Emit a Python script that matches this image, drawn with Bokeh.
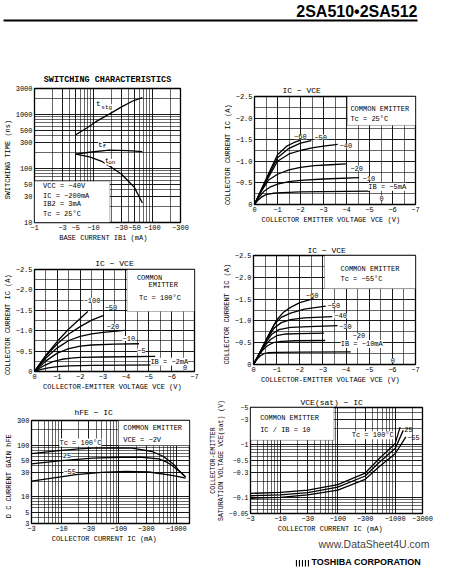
from bokeh.plotting import figure
from bokeh.models import Range1d, FixedTicker, Label, BoxAnnotation, Title
from bokeh.layouts import column, row
from bokeh.embed import file_html
from bokeh.resources import INLINE

MONO = "Liberation Mono"

# ---------------- data ----------------
# Switching characteristics: |IB1| (mA) vs time (ns)
sw_tstg_ib = [5, 7.6, 11, 18.2, 30, 46.5, 67.6]
sw_tstg_t = [418, 553, 731, 995, 1371, 1762, 2036]
sw_tf_ib = [5, 8.6, 18.2, 38.5, 67.6]
sw_tf_t = [183, 199, 217, 214, 205]
sw_ton_ib = [5, 8.6, 14.2, 20.6, 30, 38.5, 49.5, 67.6]
sw_ton_t = [183, 164, 133, 103, 78, 59, 44.6, 23]
sw_x_ticks = [1, 3, 5, 10, 30, 50, 100, 300]
sw_x_labels = ["−1", "−3", "−5", "−10", "−30", "−50", "−100", "−300"]
sw_x_minor = [2, 4, 6, 7, 8, 9, 20, 40, 60, 70, 80, 90, 200]
sw_y_ticks = [10, 30, 50, 100, 300, 500, 1000, 3000]
sw_y_labels = ["10", "30", "50", "100", "300", "500", "1000", "3000"]
sw_y_minor = [20, 40, 60, 70, 80, 90, 200, 400, 600, 700, 800, 900, 2000]

# IC - VCE axes (V, A)
vce_ticks = [0, -1, -2, -3, -4, -5, -6, -7]
vce_labels = ["0", "−1", "−2", "−3", "−4", "−5", "−6", "−7"]
vce_minor = [-0.5, -1.5, -2.5, -3.5, -4.5, -5.5, -6.5]
ic_ticks = [0, -0.5, -1.0, -1.5, -2.0, -2.5]
ic_labels = ["0", "−0.5", "−1.0", "−1.5", "−2.0", "−2.5"]
ic_minor = [-0.25, -0.75, -1.25, -1.75, -2.25]

# IC - VCE, Tc = 25 C
c25_ib60_v = [0, -0.3, -0.6, -1.0, -1.4, -1.7, -2.0]
c25_ib60_i = [0, -0.35, -0.7, -1.15, -1.35, -1.43, -1.49]
c25_ib50_v = [0, -0.3, -0.6, -1.0, -1.5, -2.0, -2.47]
c25_ib50_i = [0, -0.34, -0.66, -1.08, -1.3, -1.42, -1.48]
c25_ib40_v = [0, -0.3, -0.6, -1.0, -1.5, -2.0, -2.5, -3.0, -3.62]
c25_ib40_i = [0, -0.33, -0.62, -1.0, -1.17, -1.25, -1.31, -1.35, -1.39]
c25_ib20_v = [0, -0.3, -0.6, -1.0, -1.5, -2.0, -2.6, -3.3, -3.97]
c25_ib20_i = [0, -0.31, -0.56, -0.7, -0.8, -0.86, -0.9, -0.92, -0.94]
c25_ib10_v = [0, -0.2, -0.4, -0.7, -1.0, -1.5, -2.0, -3.0, -4.55]
c25_ib10_i = [0, -0.17, -0.3, -0.41, -0.47, -0.53, -0.56, -0.59, -0.62]
c25_ib5_v = [0, -0.15, -0.3, -0.5, -0.8, -1.2, -2.0, -3.0, -5.0]
c25_ib5_i = [0, -0.1, -0.17, -0.23, -0.26, -0.275, -0.29, -0.3, -0.31]

# IC - VCE, Tc = 100 C
c100_ib100_v = [0, -0.5, -1.0, -1.5, -2.0, -2.33]
c100_ib100_i = [0, -0.4, -0.74, -1.04, -1.3, -1.47]
c100_ib50_v = [0, -0.5, -1.0, -1.5, -2.0, -2.5, -3.0]
c100_ib50_i = [0, -0.38, -0.68, -0.92, -1.1, -1.26, -1.37]
c100_ib20_v = [0, -0.5, -1.0, -1.5, -2.0, -2.5, -3.0, -3.93]
c100_ib20_i = [0, -0.33, -0.58, -0.76, -0.86, -0.92, -0.96, -1.01]
c100_ib10_v = [0, -0.5, -1.0, -1.5, -2.0, -2.5, -3.5, -4.57]
c100_ib10_i = [0, -0.26, -0.45, -0.56, -0.62, -0.65, -0.67, -0.68]
c100_ib5_v = [0, -0.4, -0.8, -1.2, -1.6, -2.0, -3.0, -5.28]
c100_ib5_i = [0, -0.14, -0.24, -0.3, -0.33, -0.345, -0.355, -0.37]
c100_ib2_v = [0, -0.3, -0.6, -1.0, -1.5, -2.5, -5.63]
c100_ib2_i = [0, -0.05, -0.09, -0.12, -0.14, -0.15, -0.16]

# IC - VCE, Tc = -55 C
cm55_ib60_v = [0, -0.3, -0.6, -1.0, -1.3, -1.6, -2.0, -2.6]
cm55_ib60_i = [0, -0.3, -0.62, -1.02, -1.2, -1.31, -1.42, -1.51]
cm55_ib50_v = [0, -0.3, -0.6, -0.9, -1.2, -1.6, -2.2, -3.12]
cm55_ib50_i = [0, -0.3, -0.62, -0.92, -1.08, -1.18, -1.27, -1.34]
cm55_ib40_v = [0, -0.3, -0.6, -0.9, -1.2, -1.6, -2.2, -3.4]
cm55_ib40_i = [0, -0.3, -0.6, -0.84, -0.96, -1.03, -1.07, -1.1]
cm55_ib30_v = [0, -0.3, -0.55, -0.8, -1.1, -1.6, -2.4, -3.63]
cm55_ib30_i = [0, -0.29, -0.52, -0.7, -0.8, -0.85, -0.87, -0.89]
cm55_ib20_v = [0, -0.25, -0.5, -0.75, -1.0, -1.4, -2.0, -3.05]
cm55_ib20_i = [0, -0.24, -0.44, -0.58, -0.66, -0.7, -0.71, -0.72]
cm55_ib10_v = [0, -0.2, -0.4, -0.6, -0.85, -1.2, -1.8, -3.1]
cm55_ib10_i = [0, -0.19, -0.33, -0.43, -0.5, -0.53, -0.545, -0.55]
cm55_ib5_v = [0, -0.15, -0.3, -0.45, -0.65, -1.0, -2.0, -4.2]
cm55_ib5_i = [0, -0.12, -0.2, -0.25, -0.27, -0.28, -0.285, -0.29]

# hFE - IC  (|IC| mA)
h100_ic = [3, 9, 20, 35, 80, 170, 380, 600, 740, 950, 1110, 1450]
h100_h = [68, 78, 84, 87, 88, 87, 75, 60, 50, 40, 32, 24]
h25_ic = [3, 10, 35, 100, 250, 495, 700, 845, 1050, 1260, 1450]
h25_h = [43, 50, 56, 58, 58, 54, 46, 40, 33, 28, 24]
hm55_ic = [3, 18, 50, 131, 334, 741, 1100, 1450]
hm55_h = [20, 26.8, 29.5, 30.7, 30, 26.5, 24.5, 22.7]
h_x_ticks = [3, 10, 30, 100, 300, 1000]
h_x_labels = ["−3", "−10", "−30", "−100", "−300", "−1000"]
h_x_minor = [4, 5, 6, 7, 8, 9, 20, 40, 50, 60, 70, 80, 90, 200, 400, 500, 600, 700, 800, 900]
h_y_ticks = [3, 5, 10, 30, 50, 100, 300]
h_y_labels = ["3", "5", "10", "30", "50", "100", "300"]
h_y_minor = [4, 6, 7, 8, 9, 20, 40, 60, 70, 80, 90, 200]

# VCE(sat) - IC  (|IC| mA, |VCE(sat)| V)
v100_ic = [3, 10, 30, 100, 300, 525, 1000, 1219]
v100_v = [0.12, 0.125, 0.138, 0.176, 0.29, 0.54, 1.04, 2.13]
v25_ic = [3, 10, 30, 100, 300, 525, 1000, 1385]
v25_v = [0.108, 0.112, 0.124, 0.157, 0.255, 0.46, 0.84, 1.85]
vm55_ic = [3, 10, 30, 100, 300, 525, 1000, 1538]
vm55_v = [0.097, 0.101, 0.112, 0.138, 0.221, 0.38, 0.67, 1.39]
v_x_ticks = [3, 10, 30, 100, 300, 1000, 3000]
v_x_labels = ["−3", "−10", "−30", "−100", "−300", "−1000", "−3000"]
v_x_minor = [4, 5, 6, 7, 8, 9, 20, 40, 50, 60, 70, 80, 90, 200, 400, 500, 600, 700, 800, 900, 2000]
v_y_ticks = [0.05, 0.1, 0.3, 0.5, 1, 3, 5]
v_y_labels = ["−0.05", "−0.1", "−0.3", "−0.5", "−1", "−3", "−5"]
v_y_minor = [0.06, 0.07, 0.08, 0.09, 0.2, 0.4, 0.6, 0.7, 0.8, 0.9, 2, 4]


# ---------------- helpers ----------------
def make_fig(w, h, l, r, t, b, xr, yr, xlog=False, ylog=False):
    p = figure(width=w, height=h, x_range=xr, y_range=yr,
               x_axis_type="log" if xlog else "linear",
               y_axis_type="log" if ylog else "linear",
               output_backend="svg", toolbar_location=None,
               min_border_left=l, min_border_right=r,
               min_border_top=t, min_border_bottom=b)
    p.frame_align = False
    p.outline_line_color = "black"
    p.outline_line_width = 1.3
    p.background_fill_color = "white"
    p.border_fill_color = "white"
    for ax in (p.xaxis[0], p.yaxis[0]):
        ax.axis_line_color = None
        ax.major_tick_in = 0
        ax.major_tick_out = 0
        ax.minor_tick_in = 0
        ax.minor_tick_out = 0
        ax.major_label_text_font = MONO
        ax.major_label_text_font_size = "7px"
        ax.major_label_text_color = "black"
        ax.major_label_standoff = 2
        ax.axis_label_text_font = MONO
        ax.axis_label_text_font_size = "7px"
        ax.axis_label_text_font_style = "normal"
        ax.axis_label_text_color = "black"
        ax.axis_label_standoff = 1
    for g in (p.xgrid[0], p.ygrid[0]):
        g.grid_line_color = "black"
        g.grid_line_width = 0.9
        g.minor_grid_line_color = "black"
        g.minor_grid_line_width = 0.7
        g.minor_grid_line_alpha = 0.85
    return p


def set_ticks(p, xt, xl, xm, yt, yl, ym):
    tx = FixedTicker(ticks=xt, minor_ticks=xm)
    ty = FixedTicker(ticks=yt, minor_ticks=ym)
    p.xaxis[0].ticker = tx
    p.yaxis[0].ticker = ty
    p.xgrid[0].ticker = tx
    p.ygrid[0].ticker = ty
    p.xaxis[0].major_label_overrides = dict(zip(xt, xl))
    p.yaxis[0].major_label_overrides = dict(zip(yt, yl))


def set_title(p, text, align, offset, standoff, bold=False, size="8px"):
    p.title.text = text
    p.title.align = align
    p.title.offset = offset
    p.title.standoff = standoff
    p.title.text_font = MONO
    p.title.text_font_size = size
    p.title.text_font_style = "bold" if bold else "normal"
    p.title.text_color = "black"


def lab(p, x, y, text, size="7px", align="left", bg=True, font=MONO):
    p.add_layout(Label(x=x, y=y, text=text, text_font=font, text_font_size=size,
                       text_align=align, text_baseline="middle", text_color="black",
                       background_fill_color="white" if bg else None))


def wbox(p, left, right, bottom, top):
    p.add_layout(BoxAnnotation(left=left, right=right, bottom=bottom, top=top,
                               fill_color="white", fill_alpha=1.0,
                               line_color="black", line_width=1))


def curve(p, x, y):
    p.line(x, y, line_color="black", line_width=1.3)


# ---------------- header ----------------
hdr = figure(width=433, height=24, x_range=Range1d(0, 433), y_range=Range1d(0, 24),
             output_backend="svg", toolbar_location=None, title=None,
             x_axis_location=None, y_axis_location=None, min_border=0)
hdr.frame_align = False
hdr.grid.visible = False
hdr.outline_line_color = None
hdr.add_layout(BoxAnnotation(left=3, right=417, bottom=3, top=5, fill_color="black",
                             fill_alpha=1, line_color=None))
hdr.add_layout(Label(x=417, y=22, text="2SA510•2SA512", text_align="right",
                     text_baseline="top", text_font="Liberation Sans",
                     text_font_style="bold", text_font_size="16px", text_color="black"))

# ---------------- chart 1: switching ----------------
p1 = make_fig(206, 220, 28, 26, 64, 20, Range1d(1, 300), Range1d(10, 3000), True, True)
set_ticks(p1, sw_x_ticks, sw_x_labels, sw_x_minor, sw_y_ticks, sw_y_labels, sw_y_minor)
set_title(p1, "SWITCHING CHARACTERISTICS", "center", 0, 8, bold=True, size="8.5px")
p1.xaxis.axis_label = "BASE CURRENT   IB1 (mA)"
p1.yaxis.axis_label = "SWITCHING TIME   (ns)"
curve(p1, sw_tstg_ib, sw_tstg_t)
curve(p1, sw_tf_ib, sw_tf_t)
curve(p1, sw_ton_ib, sw_ton_t)
wbox(p1, 1, 19, 10, 58)
for yy, tx in [(47.9, "VCC = −40V"), (31.5, "IC = −200mA"), (21.6, "IB2 = 3mA"), (14.6, "Tc = 25°C")]:
    lab(p1, 1.4, yy, tx, bg=False)
lab(p1, 11.0, 1580, "t", size="8px")
lab(p1, 13.6, 1320, "stg", size="6px")
lab(p1, 12.0, 275, "t", size="8px")
lab(p1, 14.3, 253, "f", size="6px")
lab(p1, 15.5, 142, "t", size="8px")
lab(p1, 17.8, 128, "on", size="6px")

# ---------------- chart 2: IC-VCE 25C ----------------
p2 = make_fig(227, 213, 48, 18, 72, 33, Range1d(0, -7), Range1d(0, -2.5))
set_ticks(p2, vce_ticks, vce_labels, vce_minor, ic_ticks, ic_labels, ic_minor)
set_title(p2, "IC − VCE", "left", 28, 3)
p2.xaxis.axis_label = "COLLECTOR EMITTER VOLTAGE   VCE (V)"
p2.yaxis.axis_label = "COLLECTOR CURRENT   IC (A)"
for v, i in [(c25_ib60_v, c25_ib60_i), (c25_ib50_v, c25_ib50_i), (c25_ib40_v, c25_ib40_i),
             (c25_ib20_v, c25_ib20_i), (c25_ib10_v, c25_ib10_i), (c25_ib5_v, c25_ib5_i)]:
    curve(p2, v, i)
wbox(p2, -4.04, -7, -1.83, -2.5)
lab(p2, -4.17, -2.22, "COMMON EMITTER", bg=False)
lab(p2, -4.17, -1.99, "Tc = 25°C", bg=False)
lab(p2, -1.72, -1.57, "−60")
lab(p2, -2.6, -1.56, "−50")
lab(p2, -3.7, -1.36, "−40")
lab(p2, -4.17, -0.84, "−20")
lab(p2, -4.7, -0.6, "−10")
lab(p2, -4.95, -0.41, "IB = −5mA")
lab(p2, -5.43, -0.15, "0")

# ---------------- chart 3: IC-VCE 100C ----------------
p3 = make_fig(206, 149, 30, 12, 25, 20, Range1d(0, -7), Range1d(0, -2.5))
set_ticks(p3, vce_ticks, vce_labels, vce_minor, ic_ticks, ic_labels, ic_minor)
set_title(p3, "IC − VCE", "center", 0, 3)
p3.xaxis.axis_label = "COLLECTOR-EMITTER VOLTAGE  VCE (V)"
p3.yaxis.axis_label = "COLLECTOR CURRENT   IC (A)"
for v, i in [(c100_ib100_v, c100_ib100_i), (c100_ib50_v, c100_ib50_i), (c100_ib20_v, c100_ib20_i),
             (c100_ib10_v, c100_ib10_i), (c100_ib5_v, c100_ib5_i), (c100_ib2_v, c100_ib2_i)]:
    curve(p3, v, i)
wbox(p3, -4.05, -7, -1.47, -2.5)
lab(p3, -4.48, -2.28, "COMMON", bg=False)
lab(p3, -4.99, -2.12, "EMITTER", bg=False)
lab(p3, -4.57, -1.8, "Tc = 100°C", bg=False)
lab(p3, -2.15, -1.74, "−100")
lab(p3, -3.07, -1.58, "−50")
lab(p3, -3.15, -1.11, "−20")
lab(p3, -3.85, -0.81, "−10")
lab(p3, -4.5, -0.51, "−5")
lab(p3, -5.07, -0.24, "IB = −2mA")
lab(p3, -6.5, -0.09, "0")

# ---------------- chart 4: IC-VCE -55C ----------------
p4 = make_fig(227, 152, 47, 18, 18, 25, Range1d(0, -7), Range1d(0, -2.5))
set_ticks(p4, vce_ticks, vce_labels, vce_minor, ic_ticks, ic_labels, ic_minor)
set_title(p4, "IC − VCE", "left", 54, 1)
p4.xaxis.axis_label = "COLLECTOR-EMITTER VOLTAGE   VCE (V)"
p4.yaxis.axis_label = "COLLECTOR CURRENT   IC (A)"
for v, i in [(cm55_ib60_v, cm55_ib60_i), (cm55_ib50_v, cm55_ib50_i), (cm55_ib40_v, cm55_ib40_i),
             (cm55_ib30_v, cm55_ib30_i), (cm55_ib20_v, cm55_ib20_i), (cm55_ib10_v, cm55_ib10_i),
             (cm55_ib5_v, cm55_ib5_i)]:
    curve(p4, v, i)
wbox(p4, -3.07, -7, -1.74, -2.5)
lab(p4, -3.76, -2.2, "COMMON EMITTER", bg=False)
lab(p4, -3.76, -1.97, "Tc = −55°C", bg=False)
lab(p4, -2.26, -1.58, "−60")
lab(p4, -3.2, -1.36, "−50")
lab(p4, -3.49, -1.12, "−40")
lab(p4, -3.7, -0.88, "−30")
lab(p4, -4.28, -0.66, "−20")
lab(p4, -3.77, -0.47, "IB = −10mA")
lab(p4, -5.93, -0.09, "0")

# ---------------- chart 5: hFE-IC ----------------
p5 = make_fig(206, 157, 31, 17, 27, 27, Range1d(3, 1700), Range1d(3, 300), True, True)
set_ticks(p5, h_x_ticks, h_x_labels, h_x_minor, h_y_ticks, h_y_labels, h_y_minor)
set_title(p5, "hFE − IC", "left", 43, 7)
p5.xaxis.axis_label = "COLLECTOR CURRENT    IC (mA)"
p5.yaxis.axis_label = "D C CURRENT GAIN   hFE"
curve(p5, h100_ic, h100_h)
curve(p5, h25_ic, h25_h)
curve(p5, hm55_ic, hm55_h)
wbox(p5, 98, 1700, 98, 300)
lab(p5, 119, 210, "COMMON EMITTER", bg=False)
lab(p5, 119, 128, "VCE = −2V", bg=False)
lab(p5, 9.2, 112, "Tc = 100°C")
lab(p5, 10.5, 62, "25")
lab(p5, 10.8, 31, "−55")

# ---------------- chart 6: VCE(sat)-IC ----------------
p6 = make_fig(227, 161, 38, 11, 18, 37, Range1d(3, 3000), Range1d(0.05, 5), True, True)
set_ticks(p6, v_x_ticks, v_x_labels, v_x_minor, v_y_ticks, v_y_labels, v_y_minor)
set_title(p6, "VCE(sat) − IC", "left", 50, 2)
p6.xaxis.axis_label = "COLLECTOR CURRENT    IC (mA)"
p6.yaxis.axis_label = "COLLECTOR-EMITTER\nSATURATION VOLTAGE VCE(sat) (V)"
p6.yaxis.axis_label_text_font_size = "6.5px"
p6.yaxis.major_label_text_font_size = "6.5px"
curve(p6, v100_ic, v100_v)
curve(p6, v25_ic, v25_v)
curve(p6, vm55_ic, vm55_v)
wbox(p6, 3, 85.6, 1.2, 5)
lab(p6, 4.42, 3.2, "COMMON EMITTER", bg=False)
lab(p6, 4.42, 1.85, "IC / IB = 10", bg=False)
lab(p6, 175, 1.49, "Tc = 100°C")
lab(p6, 1440, 1.93, "25", bg=False)
lab(p6, 1618, 1.37, "−55", bg=False)
p6.add_layout(Title(text="www.DataSheet4U.com", align="left", offset=68,
                    text_font="Liberation Sans", text_font_size="10.5px",
                    text_font_style="normal", text_color="#444444", standoff=1), "below")

# ---------------- footer ----------------
ftr = figure(width=433, height=18, x_range=Range1d(0, 433), y_range=Range1d(0, 18),
             output_backend="svg", toolbar_location=None, title=None,
             x_axis_location=None, y_axis_location=None, min_border=0)
ftr.frame_align = False
ftr.grid.visible = False
ftr.outline_line_color = None
ftr.add_layout(BoxAnnotation(left=294, right=310, bottom=2, top=8.5, fill_color=None,
                             line_color=None, hatch_pattern="|", hatch_color="black",
                             hatch_scale=3, hatch_weight=1.2))
ftr.add_layout(Label(x=311, y=1.5, text="TOSHIBA CORPORATION", text_align="left",
                     text_baseline="bottom", text_font="Liberation Sans",
                     text_font_style="bold", text_font_size="9px", text_color="black"))

left_col = column(p1, p3, p5)
right_col = column(p2, p4, p6)
layout = column(hdr, row(left_col, right_col), ftr)
open("out.html", "w").write(file_html(layout, INLINE))
